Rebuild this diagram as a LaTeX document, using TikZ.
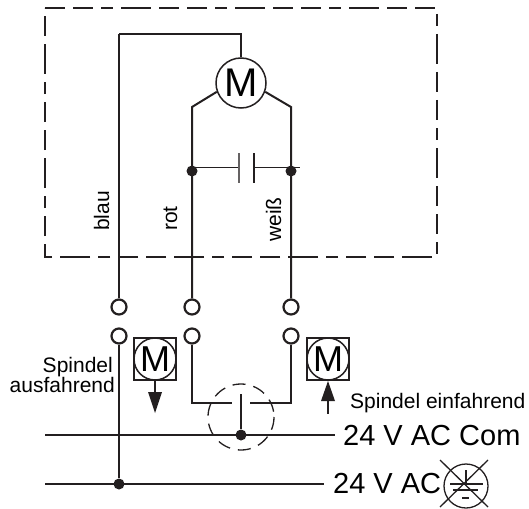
\documentclass[tikz,border=0pt]{standalone}
\usepackage{fontspec}
\setmainfont{Liberation Sans}
\definecolor{wirecol}{HTML}{231F20}
\newcommand{\motorM}[1]{\fontsize{#1}{#1}\selectfont M}
\tikzset{
	wire/.style={line width=2pt,color=wirecol},
	thinwire/.style={line width=1.3pt,color=wirecol},
	framebox/.style={line width=2pt,color=wirecol,dash pattern=on 20pt off 8pt on 20pt off 8pt on 12pt off 8pt on 30pt off 8pt},
	terminal/.style={circle,draw=wirecol,line width=2.2pt,fill=white,minimum size=15pt,inner sep=0pt},
	junction/.style={circle,fill=wirecol,minimum size=11pt,inner sep=0pt},
	motor/.style={circle,draw=wirecol,line width=1.5pt,fill=white,inner sep=0pt},
	motorbox/.style={draw=wirecol,line width=1.5pt,minimum size=42pt,inner sep=0pt},
	labeltext/.style={inner sep=0pt,text=black,font=\fontsize{21}{24}\selectfont},
	supplytext/.style={inner sep=0pt,text=black,font=\fontsize{29}{32}\selectfont}
}
\begin{document}
\begin{tikzpicture}[x=1pt,y=-1pt]
	\useasboundingbox (0,0) rectangle (529,508);
	\draw[framebox] (45,8) -- (437,8) -- (437,257) -- (45,257) -- cycle;

	\node[motor,minimum size=50pt] (M) at (241,83) {\motorM{40}};
	\coordinate (BT) at (119,34);
	\coordinate (MT) at (241,34);
	\coordinate (RK) at (192,107);
	\coordinate (WK) at (291,107);

	\node[terminal] (B1) at (119,307) {};
	\node[terminal] (B2) at (119,336) {};
	\node[terminal] (R1) at (192,307) {};
	\node[terminal] (R2) at (192,336) {};
	\node[terminal] (W1) at (291,307) {};
	\node[terminal] (W2) at (291,336) {};

	\draw[thinwire] (M.north) -- (MT) -- (BT);
	\draw[wire] (BT) -- (B1);
	\draw[wire] (M.200) -- (RK) -- (R1);
	\draw[wire] (M.-20) -- (WK) -- (W1);

	\node[junction] (JR) at (192,171) {};
	\node[junction] (JW) at (291,171) {};
	\coordinate (CJ) at (192,167.5);
	\coordinate (CL) at (239,167.5);
	\coordinate (CR) at (254,167.5);
	\coordinate (CE) at (300,167.5);
	\draw[thinwire] (CJ) -- (CL);
	\draw[thinwire] (CR) -- (CE);
	\draw[thinwire,color=wirecol!70] (239,153) -- (239,183);
	\draw[thinwire] (254,153) -- (254,183);

	\node[labeltext,rotate=90,anchor=base west] at (109,231) {blau};
	\node[labeltext,rotate=90,anchor=base west] at (177,231) {rot};
	\node[labeltext,rotate=90,anchor=base west] at (281,242) {weiß};

	\coordinate (AL) at (45,484);
	\coordinate (AR) at (324,484);
	\coordinate (CoL) at (45,435);
	\coordinate (CoR) at (335,435);
	\node[junction] (JA) at (119,484) {};
	\node[junction] (JC) at (241,435) {};
	\coordinate (ST) at (241,394);
	\coordinate (SL) at (232,403);
	\coordinate (SR) at (250,403);
	\draw[wire] (CoL) -- (CoR);
	\draw[wire] (AL) -- (AR);
	\draw[wire] (B2) -- (JA);
	\draw[wire] (R2) |- (SL);
	\draw[wire] (W2) |- (SR);
	\draw[wire] (ST) -- (JC);
	\draw[thinwire,dash pattern=on 13pt off 8pt] (241,417) circle (33);

	\node[motorbox] (BL) at (155,359) {};
	\node[motor,minimum size=42pt] at (BL) {\motorM{36}};
	\node[motorbox] (BR) at (328,359) {};
	\node[motor,minimum size=42pt] at (BR) {\motorM{36}};
	\coordinate (AB) at (155,392);
	\coordinate (AU) at (328,401);
	\draw[wire] (BL.south) -- (AB);
	\fill[wirecol] (148,392) -- (162,392) -- (155,413) -- cycle;
	\draw[wire] (AU) -- (328,414);
	\fill[wirecol] (321,401) -- (335,401) -- (328,381) -- cycle;

	\node[labeltext,anchor=base east] at (113,372) {Spindel};
	\node[labeltext,anchor=base east] at (115,392) {ausfahrend};
	\node[labeltext,anchor=base west] at (350,408) {Spindel einfahrend};
	\node[supplytext,anchor=base west] at (343,445) {24 V AC Com};
	\node[supplytext,anchor=base west] at (333,493) {24 V AC};

	\node[circle,draw=wirecol,line width=1.3pt,minimum size=44pt,inner sep=0pt] (PE) at (466,486) {};
	\draw[thinwire] (440,460) -- (488,507);
	\draw[thinwire] (488,460) -- (440,507);
	\draw[thinwire] (466,470) -- (466,484);
	\draw[thinwire] (450,484) -- (483,484);
	\draw[thinwire] (453,490) -- (478,490);
	\draw[thinwire] (462,498) -- (469,498);
\end{tikzpicture}
\end{document}
